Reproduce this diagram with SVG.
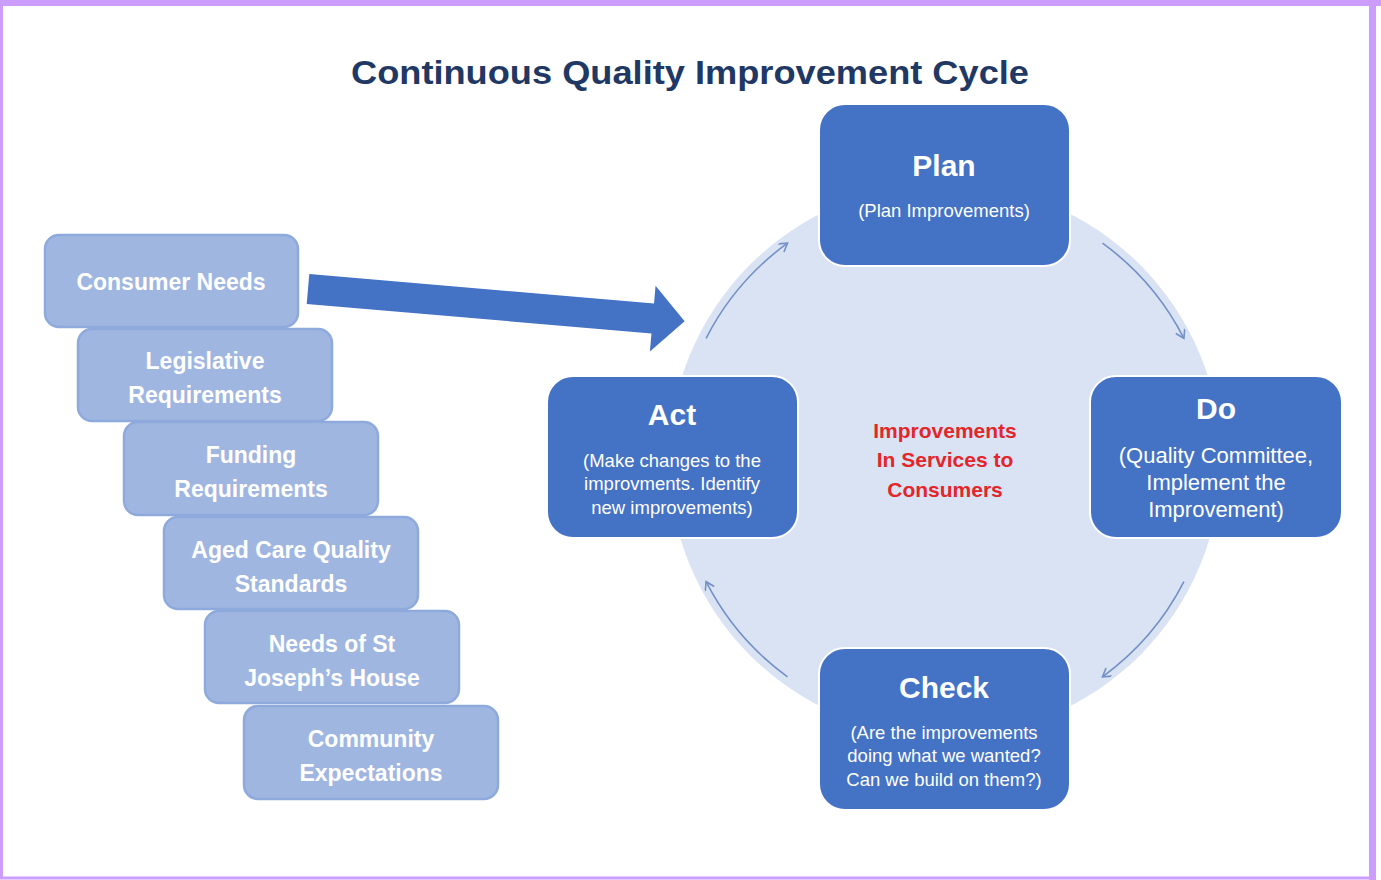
<svg xmlns="http://www.w3.org/2000/svg" width="1381" height="880" viewBox="0 0 1381 880">
  <style>
    .title { font-family: "Liberation Sans", Arial, sans-serif; font-weight: bold; font-size: 33px; fill: #1f3864; text-anchor: middle; }
    .input rect { fill: #9fb6e1; stroke: #8eaadc; stroke-width: 2.5; }
    .input text { font-family: "Liberation Sans", Arial, sans-serif; font-weight: bold; font-size: 23px; fill: #ffffff; text-anchor: middle; }
    .stage rect { fill: #4472c4; stroke: #ffffff; stroke-width: 2; }
    .stage .head { font-family: "Liberation Sans", Arial, sans-serif; font-weight: bold; font-size: 30px; fill: #ffffff; text-anchor: middle; }
    .stage .sub { font-family: "Liberation Sans", Arial, sans-serif; font-size: 18.5px; fill: #ffffff; text-anchor: middle; }
    .stage .sub.big { font-size: 22px; }
    .core { font-family: "Liberation Sans", Arial, sans-serif; font-weight: bold; font-size: 21px; fill: #e3262a; text-anchor: middle; }
    .cycle { fill: none; stroke: #7390c8; stroke-width: 1.6; marker-end: url(#open); }
  </style>
  <defs>
    <marker id="open" markerWidth="12" markerHeight="12" refX="9" refY="5" orient="auto" markerUnits="userSpaceOnUse">
      <path d="M1,0 L9,5 L1,10" fill="none" stroke="#7390c8" stroke-width="1.6"/>
    </marker>
  </defs>

  <!-- frame -->
  <rect x="0" y="0" width="1381" height="880" fill="#ffffff"/>
  <rect x="1.5" y="3" width="1371" height="875" fill="none" stroke="#cc9cff" stroke-width="3"/>
  <rect x="0" y="0" width="1381" height="6" fill="#cc9cff"/>
  <rect x="1369" y="0" width="7" height="880" fill="#cc9cff"/>

  <text class="title" x="690" y="84" textLength="678" lengthAdjust="spacingAndGlyphs">Continuous Quality Improvement Cycle</text>

  <!-- cycle background -->
  <circle id="cycle-bg" cx="945" cy="460" r="276" fill="#dae3f3"/>

  <!-- connectors -->
  <g id="connectors">
    <path class="cycle" d="M706.1,338.3 A268,268 0 0 1 787.5,243.2"/>
    <path class="cycle" d="M1102.5,243.2 A268,268 0 0 1 1183.9,338.3"/>
    <path class="cycle" d="M1183.9,581.7 A268,268 0 0 1 1102.5,676.8"/>
    <path class="cycle" d="M787.5,676.8 A268,268 0 0 1 706.1,581.7"/>
    <polygon id="input-arrow" transform="translate(308,289) rotate(4.9)" points="0,-15 346,-15 346,-33 378,0 346,33 346,15 0,15" fill="#4472c4"/>
  </g>

  <!-- input stack -->
  <g id="consumer-needs" class="input">
    <rect x="45" y="235" width="253" height="92" rx="14"/>
    <text x="171" y="290">Consumer Needs</text>
  </g>
  <g id="legislative" class="input">
    <rect x="78" y="329" width="254" height="92" rx="14"/>
    <text x="205" y="369">Legislative</text>
    <text x="205" y="403">Requirements</text>
  </g>
  <g id="funding" class="input">
    <rect x="124" y="422" width="254" height="93" rx="14"/>
    <text x="251" y="463">Funding</text>
    <text x="251" y="497">Requirements</text>
  </g>
  <g id="standards" class="input">
    <rect x="164" y="517" width="254" height="92" rx="14"/>
    <text x="291" y="558">Aged Care Quality</text>
    <text x="291" y="592">Standards</text>
  </g>
  <g id="house-needs" class="input">
    <rect x="205" y="611" width="254" height="92" rx="14"/>
    <text x="332" y="652">Needs of St</text>
    <text x="332" y="686">Joseph’s House</text>
  </g>
  <g id="community" class="input">
    <rect x="244" y="706" width="254" height="93" rx="14"/>
    <text x="371" y="747">Community</text>
    <text x="371" y="781">Expectations</text>
  </g>

  <!-- cycle stages -->
  <g id="plan" class="stage">
    <rect x="819" y="104" width="251" height="162" rx="26"/>
    <text class="head" x="944" y="176">Plan</text>
    <text class="sub" x="944" y="217">(Plan Improvements)</text>
  </g>
  <g id="do" class="stage">
    <rect x="1090" y="376" width="252" height="162" rx="26"/>
    <text class="head" x="1216" y="419">Do</text>
    <text class="sub big" x="1216" y="463">(Quality Committee,</text>
    <text class="sub big" x="1216" y="490">Implement the</text>
    <text class="sub big" x="1216" y="517">Improvement)</text>
  </g>
  <g id="check" class="stage">
    <rect x="819" y="648" width="251" height="162" rx="26"/>
    <text class="head" x="944" y="698">Check</text>
    <text class="sub" x="944" y="739">(Are the improvements</text>
    <text class="sub" x="944" y="762">doing what we wanted?</text>
    <text class="sub" x="944" y="786">Can we build on them?)</text>
  </g>
  <g id="act" class="stage">
    <rect x="547" y="376" width="251" height="162" rx="26"/>
    <text class="head" x="672" y="425">Act</text>
    <text class="sub" x="672" y="467">(Make changes to the</text>
    <text class="sub" x="672" y="490">improvments. Identify</text>
    <text class="sub" x="672" y="514">new improvements)</text>
  </g>

  <g id="centre-label">
    <text class="core" x="945" y="438">Improvements</text>
    <text class="core" x="945" y="467">In Services to</text>
    <text class="core" x="945" y="497">Consumers</text>
  </g>
</svg>
